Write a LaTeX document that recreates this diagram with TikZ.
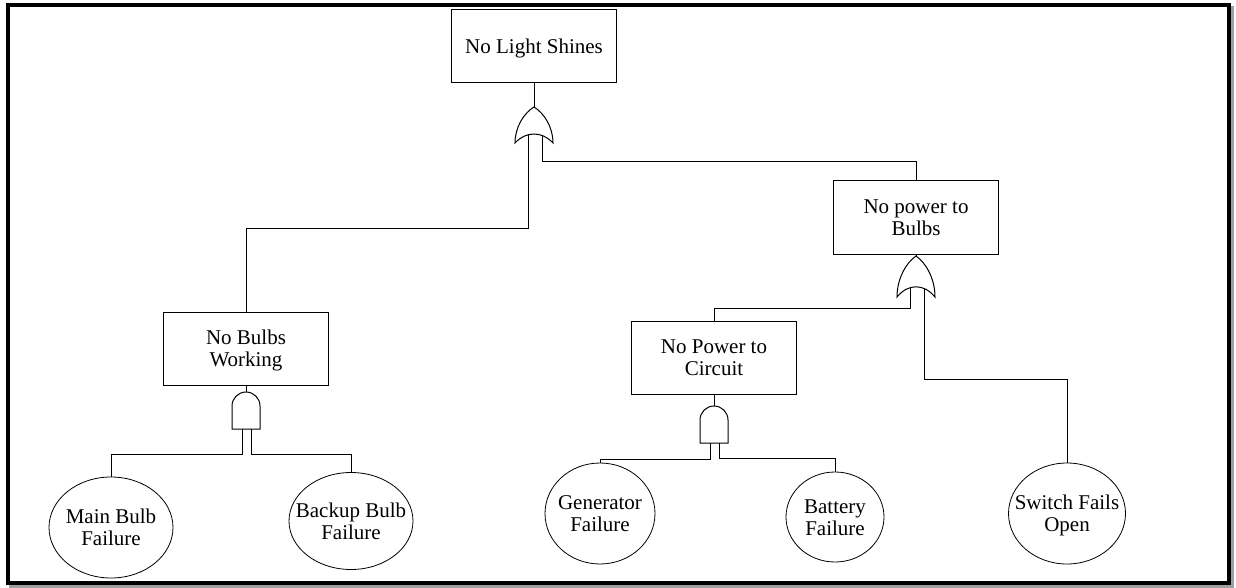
\documentclass[tikz,border=0pt]{standalone}
\usepackage{fontspec}
\setmainfont{Liberation Serif}
\usetikzlibrary{shapes.geometric}
\newcommand\bxtxt[1]{\raisebox{-3pt}[\height][\depth]{\begin{tabular}{@{}c@{}}#1\end{tabular}}}
\newcommand\evtxt[1]{\makebox[0pt]{\bxtxt{#1}}}
\tikzset{
  evbox/.style={draw, line width=1pt, minimum width=165pt, minimum height=73pt, inner sep=0pt, align=center,
    font=\fontsize{21}{22}\selectfont},
  basic/.style={draw, ellipse, line width=0.8pt, inner sep=0pt, font=\fontsize{21}{22}\selectfont},
  wire/.style={line width=1pt},
  orgate/.pic={
    \draw[line width=1pt] (-19,36) .. controls (-19,20) and (-10,6) .. (0,0)
      .. controls (10,6) and (19,20) .. (19,36)
      .. controls (8,24) and (-8,24) .. (-19,36) -- cycle;
    \coordinate (-tip) at (0,0);
    \coordinate (-inL) at (-6,28);
    \coordinate (-inR) at (8,28);
  },
  andgate/.pic={
    \draw[line width=1pt] (-14,37) -- (-14,14) arc (180:360:14) -- (14,37) -- cycle;
    \coordinate (-tip) at (0,0);
    \coordinate (-inL) at (-4,37);
    \coordinate (-inR) at (5,37);
  }
}
\begin{document}
\begin{tikzpicture}[x=1pt,y=-1pt]
\useasboundingbox (0,0) rectangle (1236,588);
% frame with shadow
\draw[gray!75, line width=4pt] (11,8) rectangle (1231.5,586);
\draw[black, fill=white, line width=4pt] (8,5) rectangle (1228.5,583);

% boxes
\node[evbox] (nls) at (534,46) {\bxtxt{No Light Shines}};
\node[evbox] (npb) at (916,217.5) {\bxtxt{No power to\\Bulbs}};
\node[evbox] (nbw) at (246,348.5) {\bxtxt{No Bulbs\\Working}};
\node[evbox] (npc) at (714,357.5) {\bxtxt{No Power to\\Circuit}};

% basic events
\node[basic, minimum width=124pt, minimum height=101pt] (mb) at (111,527.5) {\evtxt{Main Bulb\\Failure}};
\node[basic, minimum width=124pt, minimum height=97pt] (bb) at (351,521) {\evtxt{Backup Bulb\\Failure}};
\node[basic, minimum width=110pt, minimum height=101pt] (gen) at (600,513.5) {\evtxt{Generator\\Failure}};
\node[basic, minimum width=98pt, minimum height=90pt] (bat) at (835,517) {\evtxt{Battery\\Failure}};
\node[basic, minimum width=117pt, minimum height=101pt] (sw) at (1067,513.5) {\evtxt{Switch Fails\\Open}};

% gates
\pic (g1) at (534,107) {orgate};
\pic[yscale=1.14] (g2) at (916,256) {orgate};
\pic (g3) at (714,406) {andgate};
\pic (g4) at (246,392) {andgate};

% connectors
\draw[wire] (nls.south) -- (g1-tip);
\draw[wire] (g1-inL) -- ++(0,93) -| (nbw.north);
\draw[wire] (g1-inR) -- ++(0,27) -| (npb.north);
\draw[wire] (npb.south) -- (g2-tip);
\draw[wire] (g2-inL) -- ++(0,21) -| (npc.north);
\draw[wire] (g2-inR) -- ++(0,92) -| (sw.north);
\draw[wire] (npc.south) -- (g3-tip);
\draw[wire] (g3-inL) -- ++(0,16) -| (gen.north);
\draw[wire] (g3-inR) -- ++(0,15) -| (bat.north);
\draw[wire] (nbw.south) -- (g4-tip);
\draw[wire] (g4-inL) -- ++(0,25) -| (mb.north);
\draw[wire] (g4-inR) -- ++(0,25) -| (bb.north);
\end{tikzpicture}
\end{document}
